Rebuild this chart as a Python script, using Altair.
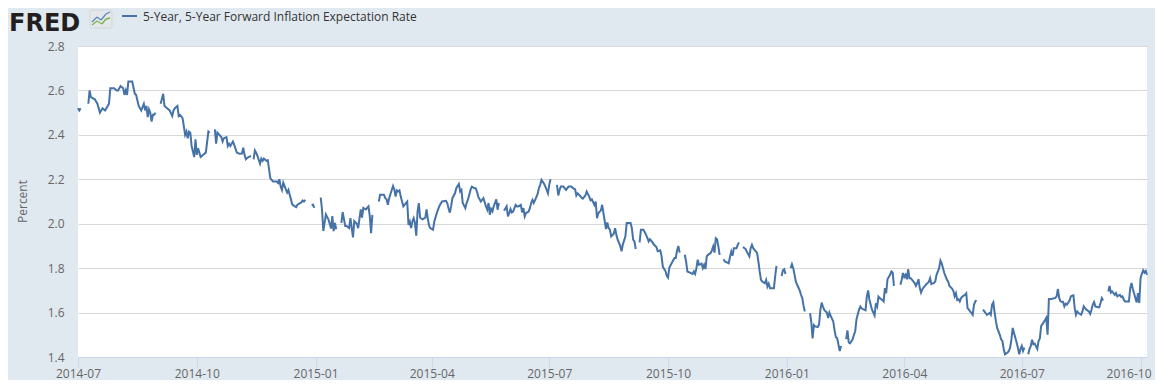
import altair as alt
import pandas as pd

# ---- data (None = gap / holiday in the series) ----
days_2014 = ["07-01","07-02","07-03","07-04","07-09","07-10","07-11","07-14","07-16","07-18","07-20","07-22","07-23","07-25","07-26","07-29","07-31",
"08-01","08-03","08-05","08-06","08-07","08-08","08-09","08-12","08-14","08-15","08-17","08-18","08-19","08-21","08-22","08-23","08-24","08-25","08-26","08-27","08-28","08-29","08-30",
"09-01","09-03","09-05","09-06","09-08","09-10","09-12","09-13","09-14","09-16","09-17","09-18","09-20","09-22","09-23","09-24","09-25","09-26","09-27","09-29","09-30",
"10-01","10-02","10-04","10-06","10-08","10-10","10-11","10-13","10-15","10-16","10-17","10-20","10-21","10-22","10-24","10-25","10-26","10-27","10-29","10-30",
"11-01","11-03","11-05","11-06","11-07","11-08","11-10","11-12","11-13","11-14","11-15","11-16","11-17","11-19","11-20","11-21","11-22","11-24","11-25","11-27","11-29",
"12-02","12-03","12-04","12-05","12-06","12-07","12-09","12-10","12-11","12-12","12-14","12-16","12-17","12-18","12-20","12-21","12-22","12-23","12-24","12-25","12-29","12-30","12-31"]
values_2014 = [2.52,2.51,2.52,None,2.54,2.60,2.57,2.56,2.54,2.50,2.52,2.51,2.52,2.54,2.61,2.61,2.60,
2.60,2.62,2.61,2.58,2.60,2.58,2.64,2.64,2.585,2.58,2.53,2.52,2.51,2.54,2.51,2.53,2.48,2.515,2.50,2.46,2.49,2.49,2.50,
None,2.54,2.585,2.53,2.52,2.51,2.485,2.51,2.52,2.53,2.485,2.49,2.475,2.40,2.415,2.385,2.415,2.41,2.35,2.30,2.38,
2.31,2.34,2.30,2.31,2.32,2.415,2.41,None,2.425,2.36,2.41,2.39,2.37,2.385,2.39,2.35,2.36,2.35,2.37,2.355,
2.32,2.315,2.316,2.342,2.31,2.29,2.30,2.305,None,2.29,2.33,2.32,2.305,2.27,2.293,2.283,2.293,2.283,2.286,2.204,2.19,
2.19,2.183,2.20,2.167,2.152,2.185,2.155,2.14,2.152,2.13,2.086,2.078,2.075,2.086,2.093,2.096,2.105,2.10,2.108,None,2.083,2.086,2.071]

days_2015 = ["01-01","01-05","01-06","01-07","01-09","01-11","01-13","01-14","01-15","01-16","01-17","01-19","01-21","01-22","01-24","01-25","01-27","01-28","01-30","01-31",
"02-02","02-03","02-05","02-06","02-07","02-09","02-11","02-12","02-13","02-14","02-16","02-19","02-20","02-23","02-24","02-25","02-26","02-27",
"03-02","03-03","03-04","03-05","03-06","03-07","03-08","03-09","03-10","03-12","03-13","03-14","03-15","03-16","03-17","03-18","03-19","03-20","03-21","03-22","03-23","03-25","03-27","03-28","03-29","03-30","03-31",
"04-02","04-03","04-05","04-07","04-09","04-12","04-13","04-14","04-15","04-16","04-17","04-19","04-20","04-22","04-23","04-24","04-25","04-27","04-28","04-29",
"05-01","05-02","05-04","05-05","05-06","05-07","05-09","05-10","05-11","05-13","05-14","05-15","05-16","05-17","05-18","05-19","05-21","05-22","05-23","05-25","05-27","05-29","05-30","05-31",
"06-01","06-02","06-03","06-05","06-06","06-07","06-09","06-10","06-11","06-12","06-13","06-15","06-16","06-17","06-18","06-19","06-21","06-22","06-23","06-24","06-25","06-27","06-28","06-29","06-30",
"07-01","07-02","07-03","07-07","07-08","07-09","07-10","07-12","07-14","07-16","07-18","07-20","07-21","07-22","07-23","07-25","07-26","07-27","07-29","07-30",
"08-01","08-02","08-03","08-05","08-06","08-07","08-08","08-10","08-11","08-13","08-14","08-15","08-16","08-17","08-18","08-20","08-21","08-22","08-23","08-25","08-26","08-27","08-29","08-30",
"09-02","09-03","09-04","09-05","09-06","09-07","09-09","09-10","09-12","09-14","09-15","09-16","09-17","09-19","09-20","09-22","09-23","09-25","09-26","09-27","09-29","09-30",
"10-01","10-02","10-04","10-06","10-07","10-08","10-09","10-10","10-12","10-14","10-15","10-16","10-18","10-20","10-21","10-22","10-23","10-24","10-25","10-27","10-28","10-29","10-30","10-31",
"11-01","11-03","11-04","11-05","11-06","11-07","11-08","11-09","11-10","11-11","11-13","11-14","11-16","11-17","11-18","11-19","11-20","11-21","11-23","11-24","11-25","11-26","11-28","11-30",
"12-01","12-03","12-04","12-05","12-06","12-08","12-09","12-10","12-11","12-12","12-13","12-15","12-16","12-17","12-18","12-19","12-21","12-22","12-23","12-24","12-25","12-28","12-29","12-30","12-31"]
values_2015 = [None,2.118,2.064,1.967,2.042,2.019,1.978,2.034,1.967,2.004,1.975,None,2.004,2.052,1.99,1.99,1.98,2.025,1.938,2.012,
2.00,1.98,2.064,2.027,2.071,2.064,2.078,2.034,1.957,2.04,None,2.10,2.13,2.13,2.115,2.11,2.085,2.115,
2.17,2.155,2.122,2.15,2.145,2.15,2.122,2.10,2.078,2.093,2.10,1.995,2.01,1.98,2.01,2.025,2.003,1.946,2.055,2.093,2.027,2.02,2.027,2.064,2.02,1.99,1.98,
1.973,2.01,2.05,2.081,2.10,2.103,2.093,2.07,2.05,2.078,2.115,2.137,2.16,2.179,2.145,2.152,2.093,2.07,2.093,2.107,
2.152,2.167,2.16,2.16,2.145,2.122,2.10,2.107,2.115,2.078,2.063,2.093,2.04,2.067,2.056,2.078,2.11,2.063,2.093,None,2.058,2.078,2.033,2.048,
2.066,2.051,2.055,2.085,2.078,2.078,2.085,2.051,2.07,2.033,2.048,2.055,2.07,2.093,2.107,2.093,2.12,2.134,2.16,2.175,2.197,2.18,2.167,2.152,2.137,
2.175,2.20,None,2.175,2.127,2.152,2.167,2.167,2.152,2.167,2.167,2.158,2.155,2.127,2.137,2.125,2.117,2.113,2.127,2.145,
2.122,2.105,2.11,2.085,2.10,2.025,2.047,2.06,2.085,2.01,1.976,2.006,1.98,1.973,1.943,1.955,1.98,1.95,1.928,1.90,1.876,1.906,1.943,2.003,
2.003,1.98,1.928,1.92,1.886,None,1.916,1.973,1.973,1.95,1.936,1.92,1.93,1.916,1.906,1.895,1.876,1.88,1.854,1.806,1.787,1.766,
1.757,1.802,1.824,1.846,1.846,1.88,1.90,1.87,None,1.86,1.83,1.785,1.78,1.774,1.785,1.774,1.80,1.838,1.815,1.82,1.80,1.815,1.796,1.853,
1.86,1.868,1.88,1.898,1.87,1.935,1.93,1.898,1.86,None,1.84,1.83,1.825,1.822,1.85,1.875,1.856,1.89,1.89,1.905,1.916,None,1.895,1.887,
1.875,1.853,1.89,1.905,1.89,1.875,1.868,1.83,1.785,1.747,1.74,1.732,1.747,1.717,1.73,1.71,1.71,1.71,1.763,1.81,None,1.765,1.79,1.795,1.774]

days_2016 = ["01-01","01-04","01-05","01-06","01-07","01-08","01-09","01-10","01-11","01-12","01-13","01-14","01-15","01-18","01-19","01-20","01-21","01-22","01-23","01-25","01-26","01-27","01-28","01-29","01-30",
"02-01","02-02","02-03","02-04","02-06","02-07","02-08","02-09","02-11","02-12","02-15","02-16","02-17","02-18","02-19","02-21","02-22","02-23","02-24","02-26","02-27","02-28",
"03-02","03-03","03-04","03-05","03-06","03-07","03-09","03-10","03-11","03-12","03-13","03-15","03-16","03-17","03-18","03-19","03-21","03-22","03-23","03-24","03-25","03-29","03-30","03-31",
"04-01","04-02","04-03","04-04","04-05","04-06","04-08","04-09","04-10","04-11","04-12","04-13","04-14","04-15","04-16","04-17","04-18","04-20","04-21","04-22","04-24","04-25","04-26","04-28","04-29","04-30",
"05-01","05-02","05-04","05-05","05-06","05-08","05-09","05-10","05-11","05-12","05-13","05-14","05-15","05-16","05-18","05-19","05-20","05-21","05-22","05-23","05-24","05-25","05-26","05-27","05-30",
"06-01","06-03","06-04","06-06","06-07","06-08","06-09","06-10","06-11","06-12","06-14","06-15","06-16","06-17","06-18","06-20","06-21","06-22","06-23","06-24","06-26","06-27","06-28","06-29","06-30",
"07-01","07-02","07-03","07-04","07-06","07-07","07-08","07-09","07-10","07-11","07-13","07-14","07-15","07-16","07-18","07-19","07-20","07-21","07-22","07-24","07-27","07-28","07-29","07-30","07-31",
"08-02","08-03","08-04","08-05","08-07","08-08","08-09","08-10","08-11","08-12","08-13","08-14","08-16","08-17","08-18","08-19","08-20","08-22","08-23","08-24","08-25","08-26","08-27","08-29","08-30","08-31",
"09-01","09-02","09-05","09-06","09-07","09-08","09-09","09-11","09-12","09-13","09-15","09-16","09-17","09-18","09-19","09-21","09-22","09-23","09-24","09-25","09-26","09-27","09-28","09-29","09-30",
"10-01","10-02","10-03","10-04","10-05","10-06"]
values_2016 = [None,1.80,1.818,1.80,1.77,1.74,1.725,1.713,1.70,1.68,1.665,1.63,1.605,None,1.597,1.556,1.484,1.544,1.538,1.535,1.546,1.612,1.645,1.627,1.612,
1.60,1.576,1.60,1.585,1.56,1.52,1.49,1.485,1.427,1.45,None,1.48,1.52,1.465,1.461,1.48,1.50,1.516,1.57,1.615,1.627,1.618,
1.61,1.673,1.70,1.658,1.635,1.613,1.587,1.642,1.628,1.672,1.665,1.657,1.65,1.71,1.687,1.75,1.77,1.785,1.78,1.72,None,1.725,1.748,1.778,
1.76,1.77,1.75,1.795,1.755,1.755,1.74,1.733,1.72,1.733,1.75,1.71,1.69,1.705,1.713,1.72,1.728,1.738,1.755,1.728,1.733,1.74,1.77,1.80,1.834,1.822,
1.80,1.778,1.748,1.74,1.72,1.708,1.698,1.673,1.687,1.657,1.66,1.65,1.665,1.672,1.68,1.687,1.62,1.613,1.605,1.598,1.59,1.635,1.65,1.655,None,
1.613,1.598,1.59,1.598,1.59,1.636,1.646,1.60,1.56,1.53,1.50,1.48,1.472,1.436,1.412,1.42,1.427,1.442,1.48,1.531,1.487,1.465,1.442,1.412,1.436,
1.45,1.427,1.442,None,1.412,1.436,1.45,1.478,1.457,1.46,1.436,1.472,1.483,1.539,1.557,1.566,1.576,1.50,1.661,1.661,1.666,1.673,1.706,1.666,1.65,
1.648,1.628,1.64,1.636,1.654,1.673,1.676,1.678,1.62,1.59,1.605,1.598,1.59,1.605,1.628,1.62,1.613,1.605,1.594,1.613,1.636,1.648,1.628,1.624,1.624,1.643,
1.665,1.654,None,1.695,1.72,1.69,1.695,1.68,1.688,1.673,1.68,1.67,1.673,1.658,1.65,1.65,1.65,1.71,1.733,1.706,1.687,1.665,1.646,1.688,1.643,
1.755,1.775,1.79,1.78,1.788,1.77]

x_tick_labels = ["2014-07","2014-10","2015-01","2015-04","2015-07","2015-10","2016-01","2016-04","2016-07","2016-10"]
y_ticks = [1.4, 1.6, 1.8, 2.0, 2.2, 2.4, 2.6, 2.8]
series_name = "5-Year, 5-Year Forward Inflation Expectation Rate"
logo_text = "FRED"
y_title = "Percent"

dates, values = [], []
for yr, ds, vs in (("2014", days_2014, values_2014), ("2015", days_2015, values_2015), ("2016", days_2016, values_2016)):
    assert len(ds) == len(vs), (yr, len(ds), len(vs))
    dates += [f"{yr}-{d}" for d in ds]
    values += vs
df = pd.DataFrame({"date": dates, "value": values})

def dt(s, day=1):
    y, m = s.split("-")[:2]
    return alt.DateTime(year=int(y), month=int(m), date=day, utc=True)

BLUE = "#4572a7"
BG = "#e1e9f0"
FONT = "Open Sans"

# the last tick label sits at the right edge of the page: nudge it inwards so it stays whole
last_tick = x_tick_labels[-1]
last_test = f"utcyear(datum.value) == {int(last_tick[:4])} && utcmonth(datum.value) == {int(last_tick[5:]) - 1}"

line = alt.Chart(df).mark_line(color=BLUE, strokeWidth=2, invalid="break-paths-show-domains").encode(
    x=alt.X("date:T",
            scale=alt.Scale(type="utc", domain=[dt(dates[0]), dt(dates[-1][:7], int(dates[-1][8:]))], nice=False),
            axis=alt.Axis(values=[dt(s) for s in x_tick_labels],
                          labelExpr="utcFormat(datum.value, '%Y-%m')",
                          labelOffset={"condition": {"test": last_test, "value": -12}, "value": 0},
                          grid=False, domain=True, domainColor="#ccd6eb", ticks=True, tickColor="#ccd6eb",
                          tickSize=10, labelPadding=1, labelFlush=False, labelOverlap=False, labelBound=False),
            title=None),
    y=alt.Y("value:Q",
            scale=alt.Scale(domain=[y_ticks[0], y_ticks[-1]], nice=False, zero=False),
            axis=alt.Axis(values=y_ticks, format=".1f", grid=True, gridColor="#d8d8d8", gridWidth=1,
                          domain=False, ticks=False, tickSize=0, labelPadding=14,
                          titleX=-56, titleY=155, titleAlign="center", titleBaseline="middle", titleAngle=270),
            title=y_title),
)

logo = alt.Chart(pd.DataFrame({"t": [logo_text]})).mark_text(
    align="left", baseline="alphabetic", font="DejaVu Sans", fontSize=24, fontWeight="bold", color="#231f20"
).encode(x=alt.value(-69), y=alt.value(-15.5), text="t:N")

# small chart icon next to the logo (decoration)
icon_box = alt.Chart(pd.DataFrame({"k": [0]})).mark_rect(
    fill="#e4e8eb", stroke="#cfd5da", strokeWidth=1, cornerRadius=2
).encode(x=alt.value(12), x2=alt.value(34), y=alt.value(-36), y2=alt.value(-18))
icon_blue = [
    alt.Chart(pd.DataFrame({"k": [i]})).mark_rule(color="#5b86b8", strokeWidth=1.3).encode(
        x=alt.value(a), x2=alt.value(b), y=alt.value(c), y2=alt.value(d))
    for i, (a, b, c, d) in enumerate([(14, 19, -24, -29), (19, 23, -29, -26), (23, 28, -26, -32), (28, 32, -32, -34)])
]
icon_green = [
    alt.Chart(pd.DataFrame({"k": [i]})).mark_rule(color="#7cae4a", strokeWidth=1.3).encode(
        x=alt.value(a), x2=alt.value(b), y=alt.value(c), y2=alt.value(d))
    for i, (a, b, c, d) in enumerate([(14, 19, -21, -25), (19, 24, -25, -22), (24, 28, -22, -27), (28, 32, -27, -28)])
]

legend_line = alt.Chart(pd.DataFrame({"s": [series_name]})).mark_rule(color=BLUE, strokeWidth=2).encode(
    x=alt.value(44), x2=alt.value(59), y=alt.value(-30))

legend_text = alt.Chart(pd.DataFrame({"s": [series_name]})).mark_text(
    align="left", baseline="alphabetic", font=FONT, fontSize=12, color="#333333"
).encode(x=alt.value(65), y=alt.value(-25), text="s:N")

chart = alt.layer(line, logo, icon_box, *icon_blue, *icon_green, legend_line, legend_text).properties(
    width=1069, height=311,
    padding={"left": 70, "top": 38, "right": 8, "bottom": 23},
    autosize=alt.AutoSizeParams(type="none"),
    background=BG,
).configure_view(fill="white", stroke=None).configure_axis(
    labelFont=FONT, labelFontSize=12, labelColor="#666666",
    titleFont=FONT, titleFontSize=12, titleColor="#666666", titleFontWeight="normal",
)

chart.save("out.html", embed_options={"renderer": "svg", "actions": False})
